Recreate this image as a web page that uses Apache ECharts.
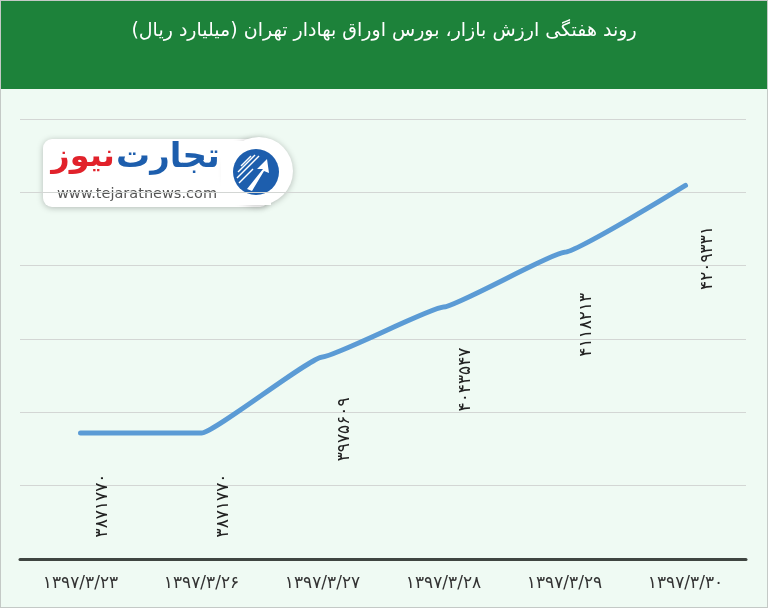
<!DOCTYPE html>
<html>
<head>
<meta charset="utf-8">
<script src="https://cdn.jsdelivr.net/npm/echarts@6/dist/echarts.min.js"></script>
<style>
html,body{margin:0;padding:0;background:#fff;}
#wrap{position:relative;width:766px;height:606px;border:1px solid #c4c9c6;background:#effaf3;}
#chart{width:766px;height:606px;}
</style>
</head>
<body>
<div id="wrap"><div id="chart"></div></div>
<script>
const titleText = 'روند هفتگی ارزش بازار، بورس اوراق بهادار تهران (میلیارد ریال)';
const categories = ['۱۳۹۷/۳/۲۳', '۱۳۹۷/۳/۲۶', '۱۳۹۷/۳/۲۷', '۱۳۹۷/۳/۲۸', '۱۳۹۷/۳/۲۹', '۱۳۹۷/۳/۳۰'];
const values = [3871770, 3871770, 3975609, 4043547, 4118213, 4209331];
const yMin = 3700000;
const yMax = 4300000;
const yStep = 100000;

const faDigits = '۰۱۲۳۴۵۶۷۸۹';
function toFa(n) { return String(n).replace(/\d/g, d => faDigits[d]); }

const FONT = "'DejaVu Sans', 'Noto Sans', sans-serif";
const chart = echarts.init(document.getElementById('chart'), null, {renderer: 'canvas'});

const option = {
  backgroundColor: '#effaf3',
  animation: false,
  grid: {left: 19, right: 21, top: 118, bottom: 48, containLabel: false},
  xAxis: {
    type: 'category',
    data: categories,
    boundaryGap: true,
    axisLine: {show: true, lineStyle: {color: '#3f4541', width: 3}},
    axisTick: {show: false},
    axisLabel: {color: '#333', fontSize: 17, fontFamily: FONT, margin: 16}
  },
  yAxis: {
    type: 'value',
    min: yMin, max: yMax, interval: yStep,
    axisLine: {show: false},
    axisTick: {show: false},
    axisLabel: {show: false},
    splitLine: {lineStyle: {color: '#d3d6d4', width: 1}}
  },
  series: [{
    type: 'line',
    data: values,
    smooth: 0.1,
    smoothMonotone: 'x',
    showSymbol: true,
    symbol: 'circle',
    symbolSize: 1,
    itemStyle: {color: 'rgba(0,0,0,0)'},
    lineStyle: {color: '#5b9bd5', width: 5, cap: 'round'},
    label: {
      show: true,
      position: 'bottom',
      distance: 0,
      rotate: 90,
      align: 'right',
      verticalAlign: 'middle',
      offset: [-40, 22],
      color: '#222',
      fontSize: 17,
      fontFamily: FONT,
      formatter: p => toFa(p.value)
    }
  }],
  graphic: [
    {type: 'rect', left: 0, top: 0, shape: {width: 766, height: 88}, style: {fill: '#1d823a'}, z: 10},
    {type: 'text', left: 'center', top: 21, z: 11,
     style: {text: titleText, fill: '#ffffff', font: "19px 'DejaVu Sans', sans-serif"}},
    // logo
    {type: 'group', z: 20, children: [
      {type: 'rect', shape: {x: 42, y: 138, width: 226, height: 68, r: 9},
       style: {fill: '#ffffff', shadowBlur: 6, shadowColor: 'rgba(0,0,0,0.25)', shadowOffsetY: 1}},
      {type: 'circle', shape: {cx: 258, cy: 170, r: 34},
       style: {fill: '#ffffff', shadowBlur: 6, shadowColor: 'rgba(0,0,0,0.25)', shadowOffsetY: 1}},
      {type: 'rect', shape: {x: 220, y: 140, width: 50, height: 64}, style: {fill: '#ffffff'}},
      {type: 'circle', shape: {cx: 255, cy: 171, r: 23}, style: {fill: '#1d5ead'}},
      {type: 'polyline', shape: {points: [[240, 165], [250, 155]]}, style: {stroke: '#fff', lineWidth: 1.5}},
      {type: 'polyline', shape: {points: [[237, 171], [254, 154]]}, style: {stroke: '#fff', lineWidth: 1.5}},
      {type: 'polyline', shape: {points: [[236, 177], [258, 155]]}, style: {stroke: '#fff', lineWidth: 1.5}},
      {type: 'polyline', shape: {points: [[238, 182], [252, 168]]}, style: {stroke: '#fff', lineWidth: 1.5}},
      {type: 'polygon', shape: {points: [[246, 188], [262, 168], [256, 168], [266, 158], [268, 172], [263, 170], [251, 190]]},
       style: {fill: '#ffffff'}},
      {type: 'text', style: {x: 167, y: 157, text: 'تجارت', fill: '#1d5ead', font: "bold 34px 'DejaVu Sans', sans-serif", align: 'center', verticalAlign: 'middle'}},
      {type: 'text', style: {x: 82, y: 157, text: 'نیوز', fill: '#e1222b', font: "bold 32px 'DejaVu Sans', sans-serif", align: 'center', verticalAlign: 'middle'}},
      {type: 'text', style: {x: 136, y: 193, text: 'www.tejaratnews.com', fill: '#555', font: "14.5px 'DejaVu Sans', sans-serif", align: 'center', verticalAlign: 'middle'}}
    ]}
  ]
};
chart.setOption(option);
</script>
</body>
</html>
